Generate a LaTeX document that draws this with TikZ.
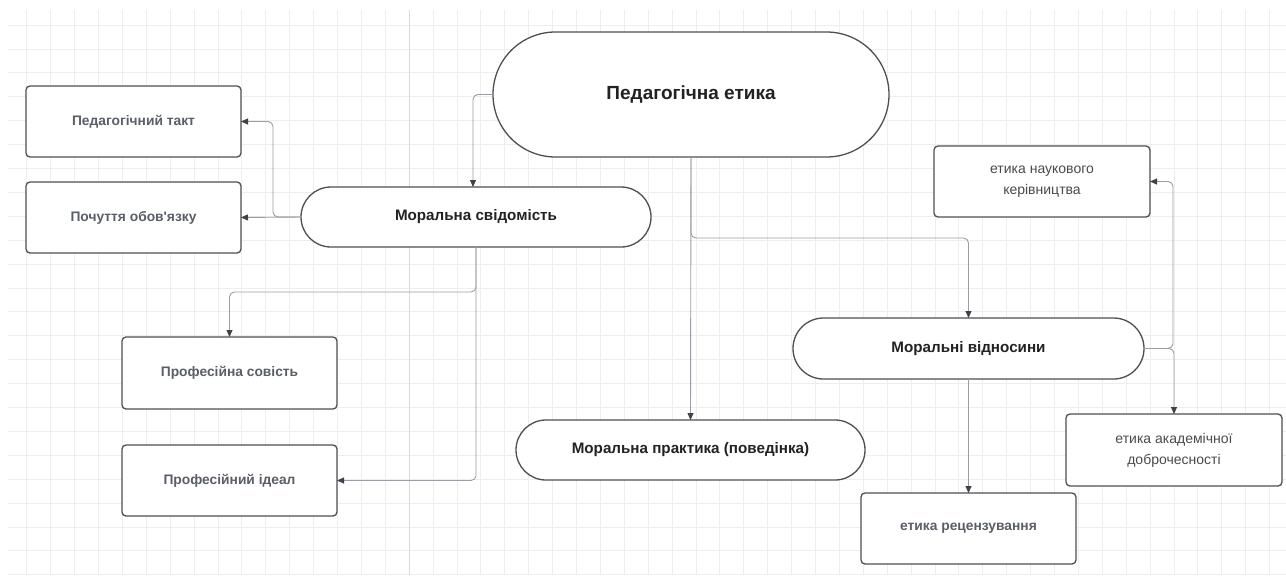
\documentclass[tikz,border=0pt]{standalone}
\usepackage{fontspec}
\setmainfont{Liberation Sans}[Ligatures=TeXOff]
\usetikzlibrary{arrows.meta}
\definecolor{gridc}{HTML}{EEEEEE}
\definecolor{gridm}{HTML}{DADADA}
\definecolor{borderc}{HTML}{4F4F4F}
\definecolor{linec}{HTML}{9A9EA4}
\definecolor{tipc}{HTML}{3E434A}
\definecolor{txtdark}{HTML}{222222}
\definecolor{txtgray}{HTML}{5A5F67}
\definecolor{txtreg}{HTML}{4A4A4A}
\tikzset{
  pill/.style={draw=borderc, line width=1.3pt, fill=white, inner sep=0pt, outer sep=0pt,
    font=\fontsize{15.2}{18}\selectfont\bfseries, text=txtdark, align=center},
  bigpill/.style={pill, font=\fontsize{19}{22}\selectfont\bfseries},
  card/.style={draw=borderc, line width=1.3pt, fill=white, rounded corners=4pt, inner sep=0pt, outer sep=0pt,
    minimum width=215pt, minimum height=71pt,
    font=\fontsize{13.8}{16}\selectfont\bfseries, text=txtgray, align=center},
  cardreg/.style={card, font=\fontsize{14}{21}\selectfont, text=txtreg},
  conn/.style={draw=linec, line width=0.9pt, rounded corners=5pt,
    -{Triangle[length=7pt,width=6pt,fill=tipc,color=tipc]}},
  link/.style={draw=linec, line width=0.9pt, rounded corners=5pt}
}
\begin{document}
\begin{tikzpicture}[x=1pt,y=-1pt]
\useasboundingbox (0,0) rectangle (1286,576);
\fill[white] (0,0) rectangle (1286,576);
% grid
\foreach \k in {0,...,23} {
  \draw[gridc, line width=0.8pt] (8,{25+23.9*\k}) -- (1286,{25+23.9*\k});
}
\foreach \k in {0,...,52} {
  \draw[gridc, line width=0.8pt] ({26.7+23.9*\k},10) -- ({26.7+23.9*\k},575);
}
\draw[gridm, line width=1pt] (409,10) -- (409,575);

% nodes
\node[bigpill, minimum width=396pt, minimum height=125pt, rounded corners=62.5pt] (pe) at (691,94.5) {Педагогічна етика};
\node[pill, minimum width=350pt, minimum height=60pt, rounded corners=30pt] (ms) at (476,217) {Моральна свідомість};
\node[card] (pt) at (133.5,121.5) {Педагогічний такт};
\node[card] (po) at (133.5,217.5) {Почуття обов'язку};
\node[card, minimum height=72pt] (psov) at (229.5,373) {Професійна совість};
\node[card] (pid) at (229.5,480.5) {Професійний ідеал};
\node[pill, minimum width=349pt, minimum height=60pt, rounded corners=30pt] (mp) at (690.5,450) {Моральна практика (поведінка)};
\node[pill, minimum width=351pt, minimum height=61pt, rounded corners=30.5pt] (mv) at (968.5,348.5) {Моральні відносини};
\node[cardreg, minimum width=216pt] (enk) at (1042,181.5) {етика наукового\\керівництва};
\node[cardreg, minimum width=216pt, minimum height=72pt] (ead) at (1174,450) {етика академічної\\доброчесності};
\node[card] (er) at (968.5,528.5) {етика рецензування};

% connectors
\draw[conn] (pe.west) -| ([xshift=-3pt]ms.north);
\draw[conn] (ms.west) -- ++(-28,0) |- (pt.east);
\draw[conn] (ms.west) -- (po.east);
\draw[conn] (ms.south) -- ++(0,45) -| (psov.north);
\draw[conn] (ms.south) |- (pid.east);
\draw[conn] (pe.south) -- (mp.north);
\draw[conn] (pe.south) -- ++(0,81) -| (mv.north);
\draw[conn] (mv.east) -- ++(29,0) |- (enk.east);
\draw[conn] (mv.east) -| (ead.north);
\draw[conn] (mv.south) -- (er.north);
\end{tikzpicture}
\end{document}
